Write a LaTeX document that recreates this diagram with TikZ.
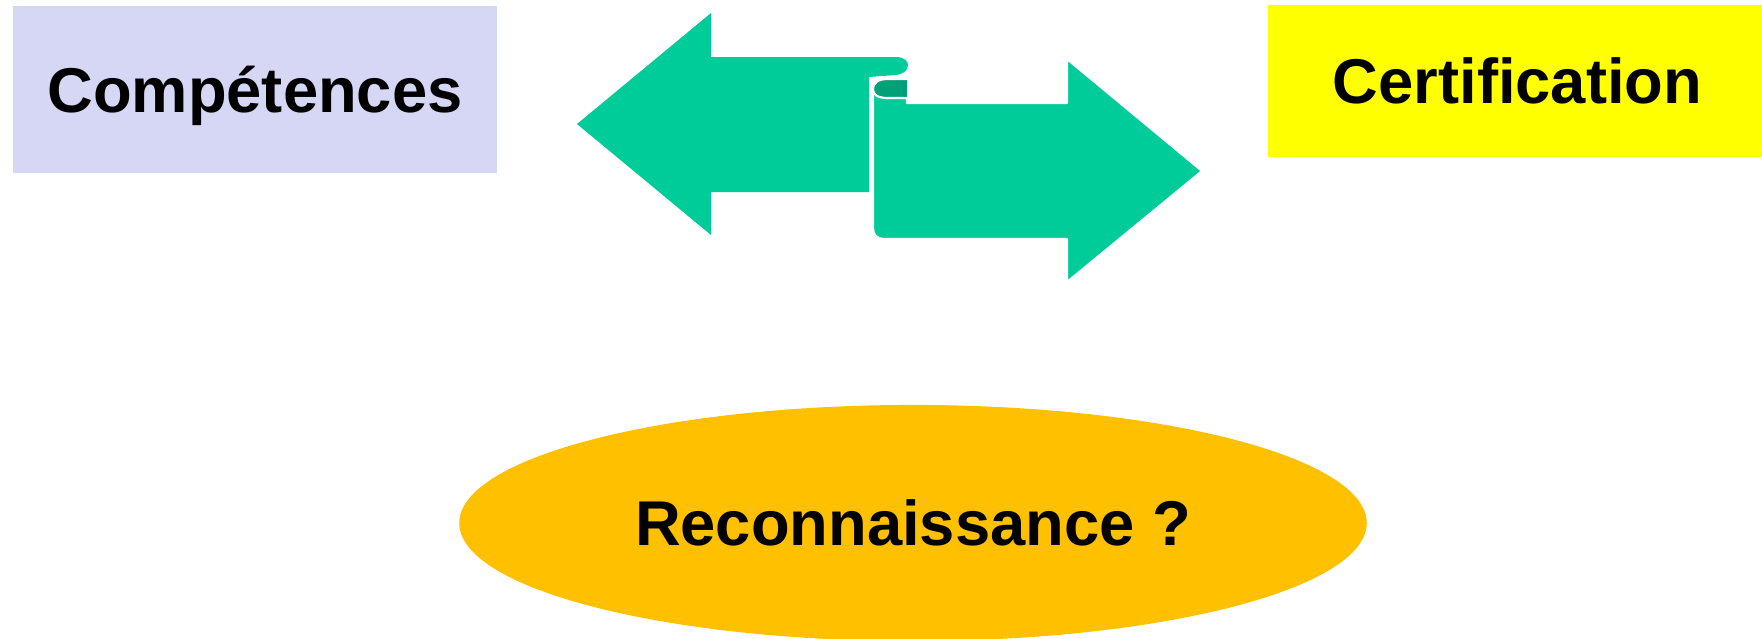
\documentclass[tikz,border=0pt]{standalone}
\usepackage{fontspec}
\setmainfont{Liberation Sans}
\usepackage{tikz}
\usetikzlibrary{shapes.geometric}
\definecolor{lavande}{RGB}{214,214,245}
\definecolor{jaune}{RGB}{255,255,0}
\definecolor{vert}{RGB}{0,204,153}
\definecolor{vertfonce}{RGB}{0,160,120}
\definecolor{ambre}{RGB}{255,192,0}
\tikzset{
  boite/.style   = {rectangle, inner sep=0pt, text height=12.9pt, text depth=0pt,
                    font=\fontsize{18pt}{21pt}\selectfont\bfseries},
  fleche/.style  = {fill=vert, draw=white, line width=0.6pt, line join=round},
  rouleau/.style = {fill=vertfonce, draw=white, line width=0.6pt}
}

\begin{document}
\begin{tikzpicture}[x=0.01cm, y=-0.01cm]
  \useasboundingbox (0,0) rectangle (1762,638);

  % les trois blocs
  \node[boite, fill=lavande, minimum width=4.84cm, minimum height=1.67cm] (comp) at (255,89.5) {Compétences};
  \node[boite, fill=jaune, minimum width=4.99cm, minimum height=1.52cm] (certif) at (1517.5,81) {Certification};
  \node[boite, ellipse, fill=ambre, minimum width=9.07cm, minimum height=2.36cm] (reco) at (913,523) {Reconnaissance ?};

  % fleche vers la gauche
  \fill[vert] (577,124) -- (711,13) -- (711,57) -- (896,57)
    .. controls (904,57) and (908,61) .. (908,65)
    .. controls (908,70) and (904,74) .. (896,75)
    -- (869,77) -- (869,192) -- (711,192) -- (711,235) -- cycle;

  % fleche vers la droite
  \draw[fleche] (907,98) -- (907,103) -- (1067,103) -- (1067,59) -- (1202,171)
    -- (1067,282) -- (1067,239) -- (884,239)
    .. controls (877,239) and (873,235) .. (873,228) -- (873,89) -- cycle;

  % le rouleau
  \draw[rouleau] (907,79) -- (888,79) .. controls (878,79) and (873,83) .. (873,89)
    .. controls (873,95) and (878,98) .. (888,98) -- (907,98);
\end{tikzpicture}
\end{document}
